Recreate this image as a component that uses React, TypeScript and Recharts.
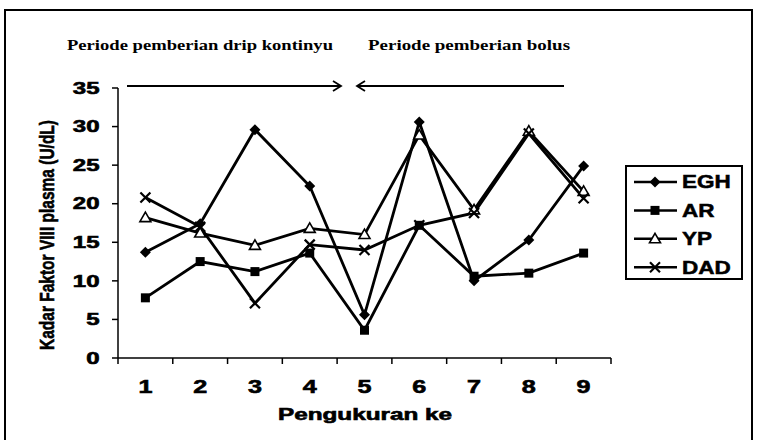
import React from 'react';
import { LineChart, Line, XAxis, YAxis, Legend } from 'recharts';

const categories = [1, 2, 3, 4, 5, 6, 7, 8, 9];
const egh = [13.7, 17.4, 29.6, 22.3, 5.6, 30.6, 10.0, 15.3, 24.9];
const ar = [7.8, 12.5, 11.2, 13.6, 3.6, 17.2, 10.6, 11.0, 13.6];
const yp = [18.2, 16.2, 14.6, 16.8, 16.0, 28.9, 19.2, 29.4, 21.6];
const dad = [20.8, 17.0, 7.1, 14.7, 14.0, 17.2, 18.8, 29.1, 20.7];
const yTicks = [0, 5, 10, 15, 20, 25, 30, 35];
const seriesNames = ['EGH', 'AR', 'YP', 'DAD'];
const periodLabels = ['Periode pemberian drip kontinyu', 'Periode pemberian bolus'];
const xTitle = 'Pengukuran ke';
const yTitle = 'Kadar Faktor VIII plasma (U/dL)';

const data = categories.map((c, i) => ({
  x: c,
  EGH: egh[i],
  AR: ar[i],
  YP: yp[i],
  DAD: dad[i],
}));

const xTickValues = categories.flatMap((c) => [c - 0.5, c]).concat([categories[categories.length - 1] + 0.5]);

const SANS = '"Liberation Sans", Arial, Helvetica, sans-serif';
const SERIF = '"Liberation Serif", "Times New Roman", Times, serif';

const Diamond = ({ cx, cy }: any) => (
  <polygon points={`${cx},${cy - 5.5} ${cx + 5.5},${cy} ${cx},${cy + 5.5} ${cx - 5.5},${cy}`} fill="#000" />
);
const Square = ({ cx, cy }: any) => <rect x={cx - 4.5} y={cy - 4.5} width={9} height={9} fill="#000" />;
const Triangle = ({ cx, cy }: any) => (
  <polygon
    points={`${cx},${cy - 5.5} ${cx + 5.5},${cy + 4} ${cx - 5.5},${cy + 4}`}
    fill="#fff"
    stroke="#000"
    strokeWidth={1.6}
  />
);
const Cross = ({ cx, cy }: any) => (
  <g stroke="#000" strokeWidth={2.2}>
    <line x1={cx - 5} y1={cy - 5} x2={cx + 5} y2={cy + 5} />
    <line x1={cx - 5} y1={cy + 5} x2={cx + 5} y2={cy - 5} />
  </g>
);

const markers: Record<string, any> = { EGH: Diamond, AR: Square, YP: Triangle, DAD: Cross };

const makeDot = (name: string) => (p: any) => {
  const M = markers[name];
  if (p.cx == null || p.cy == null) return <g key={`${name}-${p.index}`} />;
  return <M key={`${name}-${p.index}`} cx={p.cx} cy={p.cy} />;
};

const XTick = (props: any) => {
  const { x, y, payload } = props;
  const v = payload.value;
  if (!Number.isInteger(v)) {
    return <line x1={x} y1={y} x2={x} y2={y + 6} stroke="#000" strokeWidth={1.5} />;
  }
  return (
    <text
      x={x}
      y={y + 35}
      textAnchor="middle"
      fontFamily={SANS}
      fontWeight="bold"
      fontSize={18}
      fill="#000"
      stroke="#000"
      strokeWidth={0.6}
      transform={`translate(${x} 0) scale(1.4 1) translate(${-x} 0)`}
    >
      {v}
    </text>
  );
};

const YTick = (props: any) => {
  const { x, y, payload } = props;
  const ax = x - 10.5;
  return (
    <text
      x={ax}
      y={y}
      dy="0.36em"
      textAnchor="end"
      fontFamily={SANS}
      fontWeight="bold"
      fontSize={16}
      fill="#000"
      stroke="#000"
      strokeWidth={0.6}
      transform={`translate(${ax} 0) scale(1.5 1) translate(${-ax} 0)`}
    >
      {payload.value}
    </text>
  );
};

const LegendBox = (props: any) => {
  const payload = [...(props.payload || [])].sort(
    (a: any, b: any) => seriesNames.indexOf(a.value) - seriesNames.indexOf(b.value)
  );
  return (
    <div style={{ paddingLeft: 14 }}>
      <div
        style={{
          width: 118,
          height: 115,
          border: '2px solid #000',
          boxSizing: 'border-box',
          background: '#fff',
        }}
      >
        <svg width={114} height={111} style={{ display: 'block' }}>
          {payload.map((e: any, i: number) => {
            const cy = 15 + i * 28.4;
            const M = markers[e.value];
            return (
              <g key={e.value}>
                <line x1={7} y1={cy} x2={50} y2={cy} stroke="#000" strokeWidth={2.5} />
                {M ? <M cx={28} cy={cy} /> : null}
                <text
                  x={55}
                  y={cy + 6.5}
                  fontFamily={SANS}
                  fontWeight="bold"
                  fontSize={18}
                  fill="#000"
                  stroke="#000"
                  strokeWidth={0.5}
                  transform={`translate(55 0) scale(1.25 1) translate(-55 0)`}
                >
                  {e.value}
                </text>
              </g>
            );
          })}
        </svg>
      </div>
    </div>
  );
};

export default function App() {
  return (
    <div style={{ position: 'absolute', left: 0, top: 0, width: 759, height: 440, background: '#fff' }}>
      <LineChart width={759} height={440} data={data} margin={{ top: 88, right: 16, bottom: 22, left: 0 }}>
        <XAxis
          dataKey="x"
          type="number"
          domain={[0.5, 9.5]}
          ticks={xTickValues}
          interval={0}
          tickSize={0}
          tickMargin={0}
          tickLine={false}
          tick={<XTick />}
          axisLine={{ stroke: '#000', strokeWidth: 1.5 }}
          height={60}
          allowDecimals
        />
        <YAxis
          type="number"
          domain={[0, 35]}
          ticks={yTicks}
          interval={0}
          width={118}
          tickSize={6}
          tickLine={{ stroke: '#000', strokeWidth: 1.5 }}
          axisLine={{ stroke: '#000', strokeWidth: 1.5 }}
          tick={<YTick />}
        />
        <Legend
          layout="vertical"
          align="right"
          verticalAlign="top"
          itemSorter={null as any}
          wrapperStyle={{ top: 165, right: 16 }}
          content={<LegendBox />}
        />
        {seriesNames.map((n) => (
          <Line
            key={n}
            type="linear"
            dataKey={n}
            name={n}
            stroke="#000"
            strokeWidth={2.8}
            dot={makeDot(n)}
            activeDot={false}
            isAnimationActive={false}
            legendType="line"
          />
        ))}
      </LineChart>
      <svg
        width={759}
        height={440}
        style={{ position: 'absolute', left: 0, top: 0, pointerEvents: 'none' }}
      >
        <rect x={5} y={10} width={747} height={445} fill="none" stroke="#000" strokeWidth={2} />
        <text x={67} y={50} fontFamily={SERIF} fontWeight="bold" fontSize={15} fill="#000" textLength={266} lengthAdjust="spacingAndGlyphs">
          {periodLabels[0]}
        </text>
        <text x={368} y={50} fontFamily={SERIF} fontWeight="bold" fontSize={15} fill="#000" textLength={202} lengthAdjust="spacingAndGlyphs">
          {periodLabels[1]}
        </text>
        <g stroke="#000" strokeWidth={1.8} fill="none">
          <line x1={127} y1={86} x2={341} y2={86} />
          <polyline points="333,81 341,86 333,91" />
          <line x1={357} y1={86} x2={564} y2={86} />
          <polyline points="365,81 357,86 365,91" />
        </g>
        <text
          x={365}
          y={420}
          textAnchor="middle"
          fontFamily={SANS}
          fontWeight="bold"
          fontSize={16}
          fill="#000"
          stroke="#000"
          strokeWidth={0.6}
          textLength={174}
          lengthAdjust="spacingAndGlyphs"
        >
          {xTitle}
        </text>
        <text
          x={0}
          y={0}
          textAnchor="middle"
          dy="0.36em"
          fontFamily={SANS}
          fontWeight="bold"
          fontSize={14}
          fill="#000"
          stroke="#000"
          strokeWidth={0.4}
          textLength={230}
          lengthAdjust="spacingAndGlyphs"
          transform={`translate(46 235) scale(1.5 1) rotate(-90)`}
        >
          {yTitle}
        </text>
      </svg>
    </div>
  );
}
